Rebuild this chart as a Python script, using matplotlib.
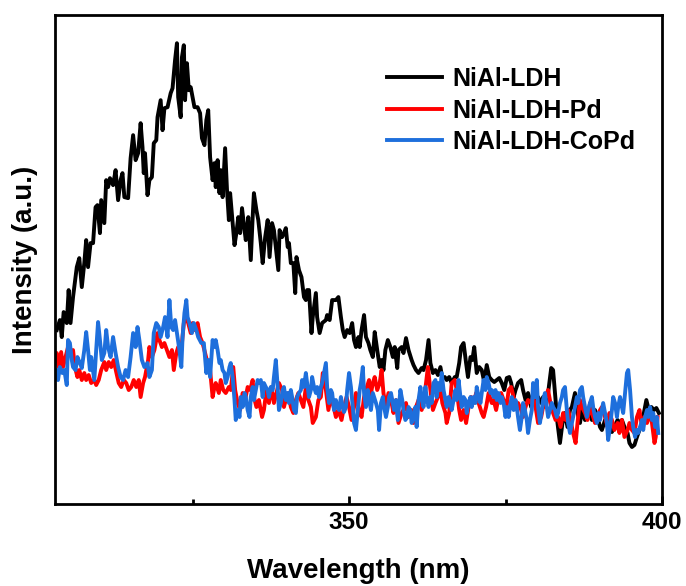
import matplotlib.pyplot as plt
from matplotlib.ticker import MultipleLocator

plt.rcParams['font.family'] = ['Liberation Sans', 'DejaVu Sans']
plt.rcParams['font.weight'] = 'bold'

# NiAl-LDH
wl_ldh = [303.3, 303.8, 304.1, 304.4, 304.9, 305.2, 305.5, 305.9, 306.5, 306.9,
          307.3, 307.7, 308.0, 308.3, 308.7, 309.1, 309.5, 309.8, 310.2, 310.4,
          310.9, 311.2, 311.5, 311.8, 312.3, 312.7, 313.1, 313.5, 313.8, 314.1,
          314.7, 315.1, 315.5, 315.9, 316.3, 316.7, 317.0, 317.2, 317.4, 317.8,
          318.1, 318.5, 318.8, 319.2, 319.4, 319.9, 320.2, 320.5, 321.0, 321.5,
          321.8, 322.2, 322.5, 322.7, 323.1, 323.3, 323.6, 323.8, 324.1, 324.4,
          324.7, 325.0, 325.3, 325.8, 326.2, 326.5, 326.9, 327.2, 327.5, 327.8,
          328.2, 328.5, 328.7, 329.0, 329.3, 329.5, 329.8, 330.2, 330.5, 330.8,
          331.0, 331.4, 331.7, 332.0, 332.3, 332.6, 332.9, 333.3, 333.5, 333.9,
          334.3, 334.6, 334.8, 335.2, 335.5, 335.9, 336.2, 336.6, 337.0, 337.3,
          337.7, 338.0, 338.3, 338.7, 338.9, 339.3, 339.6, 339.9, 340.2, 340.4,
          340.7, 341.1, 341.4, 341.6, 342.0, 342.4, 342.8, 343.1, 343.3, 343.6,
          344.0, 344.2, 344.7, 344.9, 345.3, 345.7, 346.3, 346.5, 346.9, 347.3,
          347.9, 348.3, 348.7, 349.0, 349.3, 349.7, 350.1, 350.5, 350.8, 351.1,
          351.5, 351.7, 352.0, 352.4, 352.7, 353.1, 353.4, 353.8, 354.1, 354.5,
          354.9, 355.2, 355.5, 355.8, 356.2, 356.6, 357.0, 357.3, 357.7, 357.9,
          358.4, 358.7, 359.1, 359.5, 360.0, 360.3, 360.7, 361.1, 361.6, 361.9,
          362.3, 362.7, 363.0, 363.4, 363.8, 364.2, 364.6, 364.9, 365.3, 365.6,
          366.0, 366.4, 366.9, 367.2, 367.6, 367.9, 368.3, 368.7, 369.0, 369.4,
          369.7, 370.0, 370.4, 370.8, 371.2, 371.6, 372.0, 372.4, 372.8, 373.2,
          373.6, 374.0, 374.4, 374.8, 375.2, 375.6, 375.9, 376.3, 376.6, 377.0,
          377.5, 377.8, 378.2, 378.6, 379.1, 379.4, 379.8, 380.2, 380.7, 381.0,
          381.4, 381.8, 382.3, 382.6, 383.0, 383.3, 383.7, 384.1, 384.5, 384.9,
          385.3, 385.6, 386.1, 386.5, 386.9, 387.2, 387.7, 388.1, 388.5, 388.8,
          389.3, 389.7, 390.1, 390.4, 390.9, 391.3, 391.6, 392.0, 392.4, 392.9,
          393.2, 393.6, 394.0, 394.5, 394.8, 395.2, 395.6, 396.0, 396.4, 396.8,
          397.2, 397.5, 397.9, 398.3, 398.7, 399.1, 399.5]
int_ldh = [174, 184, 167, 192, 181, 214, 181, 207, 237, 246,
           217, 241, 264, 237, 261, 261, 297, 299, 271, 304,
           281, 324, 317, 326, 319, 334, 304, 324, 331, 307,
           306, 346, 369, 344, 351, 381, 357, 331, 351, 309,
           324, 327, 361, 364, 387, 404, 374, 396, 397, 411,
           416, 444, 461, 407, 387, 447, 459, 404, 441, 414,
           417, 407, 397, 397, 391, 366, 359, 384, 394, 347,
           324, 341, 317, 344, 311, 334, 307, 356, 314, 284,
           311, 281, 259, 271, 287, 271, 296, 274, 264, 287,
           244, 287, 311, 294, 284, 261, 241, 267, 284, 247,
           281, 274, 257, 234, 274, 267, 271, 276, 257, 261,
           241, 241, 211, 247, 234, 227, 207, 204, 214, 214,
           171, 187, 211, 187, 171, 181, 184, 189, 184, 204,
           204, 207, 187, 174, 167, 174, 171, 181, 164, 157,
           167, 157, 174, 189, 167, 161, 154, 147, 172, 154,
           137, 144, 134, 154, 164, 157, 147, 157, 136, 154,
           157, 151, 166, 154, 144, 139, 134, 131, 136, 134,
           144, 164, 141, 131, 134, 129, 137, 126, 127, 124,
           127, 121, 127, 127, 141, 157, 161, 141, 127, 147,
           144, 157, 131, 137, 134, 122, 139, 127, 124, 122,
           124, 126, 121, 114, 126, 127, 121, 107, 114, 121,
           124, 114, 104, 111, 97, 111, 104, 107, 101, 107,
           97, 111, 136, 134, 104, 81, 61, 81, 91, 77,
           94, 97, 111, 91, 81, 94, 84, 87, 94, 84,
           94, 87, 77, 74, 84, 81, 77, 72, 77, 84,
           81, 84, 77, 71, 61, 57, 59, 67, 74, 81,
           94, 104, 94, 97, 94, 96, 91]

# NiAl-LDH-Pd
wl_pd = [303.0, 303.3, 303.6, 304.0, 304.3, 304.7, 305.1, 305.5, 305.9, 306.2,
         306.6, 306.9, 307.3, 307.7, 308.0, 308.4, 308.8, 309.3, 309.6, 310.0,
         310.4, 310.9, 311.2, 311.6, 312.0, 312.4, 312.8, 313.2, 313.6, 314.0,
         314.4, 314.8, 315.2, 315.6, 316.0, 316.4, 316.7, 317.1, 317.4, 317.9,
         318.1, 318.5, 318.9, 319.4, 319.7, 320.1, 320.5, 320.9, 321.3, 321.7,
         322.0, 322.4, 322.7, 323.2, 323.6, 324.0, 324.3, 324.7, 325.0, 325.4,
         325.8, 326.2, 326.6, 327.0, 327.4, 327.8, 328.2, 328.5, 328.7, 329.2,
         329.5, 329.9, 330.3, 330.8, 331.1, 331.5, 331.8, 332.2, 332.6, 333.0,
         333.4, 333.8, 334.2, 334.6, 334.8, 335.2, 335.6, 336.1, 336.4, 336.8,
         337.2, 337.6, 338.0, 338.4, 338.8, 339.3, 339.6, 340.0, 340.3, 340.7,
         341.1, 341.5, 341.9, 342.3, 342.7, 343.1, 343.5, 343.9, 344.2, 344.7,
         345.1, 345.5, 345.8, 346.3, 346.7, 347.1, 347.4, 347.9, 348.3, 348.8,
         349.2, 349.6, 350.0, 350.4, 350.8, 351.1, 351.6, 352.0, 352.4, 352.7,
         353.2, 353.4, 353.8, 354.1, 354.5, 354.9, 355.2, 355.5, 355.9, 356.3,
         356.8, 357.1, 357.5, 357.9, 358.4, 358.7, 359.1, 359.5, 360.0, 360.3,
         360.7, 361.1, 361.6, 361.9, 362.3, 362.6, 363.0, 363.4, 363.8, 364.2,
         364.6, 364.9, 365.4, 365.6, 366.0, 366.4, 366.9, 367.2, 367.6, 367.9,
         368.3, 368.7, 369.1, 369.5, 369.9, 370.3, 370.7, 371.2, 371.5, 371.9,
         372.3, 372.8, 373.1, 373.5, 373.9, 374.3, 374.7, 375.1, 375.5, 375.9,
         376.3, 376.6, 377.0, 377.5, 377.8, 378.2, 378.6, 379.1, 379.4, 379.8,
         380.2, 380.7, 381.0, 381.4, 381.8, 382.3, 382.6, 383.0, 383.4, 383.8,
         384.2, 384.6, 385.0, 385.4, 385.8, 386.2, 386.5, 386.9, 387.2, 387.7,
         388.1, 388.5, 388.8, 389.3, 389.7, 390.1, 390.4, 390.9, 391.3, 391.6,
         392.0, 392.4, 392.9, 393.2, 393.6, 394.0, 394.5, 394.8, 395.2, 395.6,
         396.0, 396.4, 396.8, 397.2, 397.6, 398.0, 398.4, 398.8, 399.0, 399.3]
int_pd = [147, 151, 137, 152, 137, 147, 157, 151, 154, 137,
          127, 134, 124, 131, 124, 129, 121, 124, 119, 124,
          134, 142, 134, 142, 137, 144, 132, 121, 117, 124,
          121, 114, 117, 124, 117, 124, 107, 121, 127, 144,
          157, 147, 154, 171, 164, 157, 161, 154, 147, 154,
          134, 151, 157, 154, 181, 186, 181, 171, 181, 174,
          181, 167, 161, 151, 141, 134, 107, 117, 121, 111,
          124, 114, 111, 117, 114, 137, 114, 101, 94, 111,
          104, 117, 114, 124, 107, 97, 104, 87, 94, 114,
          101, 117, 101, 111, 121, 114, 97, 107, 111, 97,
          91, 104, 111, 104, 97, 117, 104, 97, 81, 87,
          104, 107, 131, 114, 94, 107, 101, 87, 94, 84,
          97, 107, 97, 84, 97, 111, 94, 87, 107, 114,
          124, 107, 121, 127, 114, 121, 134, 111, 97, 111,
          101, 91, 104, 81, 91, 94, 101, 87, 94, 81,
          97, 104, 94, 101, 121, 137, 114, 94, 101, 107,
          117, 101, 91, 81, 91, 121, 124, 114, 94, 84,
          94, 81, 97, 107, 101, 111, 101, 91, 87, 97,
          111, 101, 104, 94, 107, 111, 104, 94, 114, 117,
          107, 97, 101, 94, 87, 97, 104, 101, 107, 97,
          81, 87, 97, 107, 114, 97, 91, 84, 87, 77,
          91, 84, 94, 84, 71, 61, 81, 104, 97, 91,
          84, 101, 91, 81, 87, 94, 97, 87, 77, 91,
          84, 74, 81, 71, 84, 67, 74, 81, 74, 71,
          87, 94, 77, 87, 81, 91, 81, 61, 67, 87]

# NiAl-LDH-CoPd
wl_copd = [303.0, 303.3, 303.5, 303.8, 304.2, 304.5, 304.9, 305.1, 305.4, 305.7,
           305.9, 306.3, 306.6, 307.0, 307.3, 307.7, 308.0, 308.3, 308.6, 308.8,
           309.3, 309.6, 309.9, 310.2, 310.5, 310.9, 311.2, 311.5, 311.9, 312.3,
           312.7, 313.1, 313.5, 313.9, 314.3, 314.7, 315.1, 315.5, 315.9, 316.2,
           316.5, 316.9, 317.3, 317.8, 318.1, 318.5, 318.8, 319.2, 319.6, 319.9,
           320.3, 320.6, 321.0, 321.3, 321.6, 321.9, 322.2, 322.6, 322.9, 323.2,
           323.4, 323.7, 324.0, 324.2, 324.5, 324.9, 325.2, 325.6, 325.9, 326.4,
           326.8, 327.2, 327.5, 327.8, 328.2, 328.5, 328.7, 329.0, 329.3, 329.5,
           329.8, 330.1, 330.3, 330.6, 330.9, 331.1, 331.4, 331.7, 331.9, 332.2,
           332.5, 332.7, 333.0, 333.3, 333.5, 333.8, 334.1, 334.3, 334.6, 334.8,
           335.1, 335.4, 335.6, 335.9, 336.2, 336.4, 336.7, 337.0, 337.2, 337.5,
           337.8, 338.0, 338.3, 338.6, 338.8, 339.1, 339.4, 339.6, 339.9, 340.2,
           340.4, 340.7, 340.9, 341.2, 341.5, 341.7, 342.0, 342.3, 342.5, 342.8,
           343.1, 343.3, 343.6, 343.9, 344.1, 344.4, 344.7, 344.9, 345.2, 345.5,
           345.7, 346.0, 346.3, 346.5, 346.8, 347.1, 347.3, 347.6, 347.9, 348.1,
           348.4, 348.7, 348.9, 349.2, 349.5, 349.7, 350.0, 350.3, 350.6, 350.8,
           351.1, 351.4, 351.7, 351.9, 352.2, 352.4, 352.7, 353.0, 353.2, 353.5,
           353.8, 354.0, 354.3, 354.6, 354.8, 355.1, 355.4, 355.6, 355.9, 356.2,
           356.4, 356.7, 357.0, 357.2, 357.5, 357.8, 357.9, 358.2, 358.5, 358.7,
           359.0, 359.3, 359.5, 359.8, 360.0, 360.3, 360.6, 360.8, 361.1, 361.4,
           361.6, 361.9, 362.2, 362.4, 362.7, 363.0, 363.2, 363.5, 363.8, 364.0,
           364.3, 364.6, 364.8, 365.1, 365.4, 365.6, 365.9, 366.2, 366.4, 366.7,
           367.0, 367.2, 367.5, 367.8, 368.0, 368.3, 368.6, 368.8, 369.1, 369.4,
           369.6, 369.9, 370.2, 370.4, 370.7, 371.0, 371.2, 371.5, 371.8, 372.0,
           372.3, 372.6, 372.8, 373.1, 373.4, 373.6, 373.9, 374.2, 374.4, 374.7,
           375.0, 375.2, 375.5, 375.8, 376.0, 376.3, 376.6, 376.8, 377.0, 377.3,
           377.6, 377.8, 378.1, 378.4, 378.6, 378.9, 379.2, 379.4, 379.7, 380.0,
           380.2, 380.5, 380.8, 381.0, 381.3, 381.6, 381.8, 382.1, 382.4, 382.6,
           382.9, 383.2, 383.4, 383.7, 384.0, 384.2, 384.5, 384.8, 385.0, 385.3,
           385.6, 385.8, 386.1, 386.4, 386.6, 386.9, 387.2, 387.4, 387.7, 388.0,
           388.2, 388.5, 388.8, 389.0, 389.3, 389.6, 389.8, 390.1, 390.4, 390.6,
           390.9, 391.2, 391.4, 391.7, 392.0, 392.2, 392.5, 392.8, 393.0, 393.3,
           393.6, 393.8, 394.1, 394.4, 394.6, 394.9, 395.2, 395.4, 395.7, 396.0,
           396.2, 396.5, 396.8, 397.0, 397.3, 397.6, 397.8, 398.1, 398.4, 398.6,
           398.9, 399.2, 399.4]
int_copd = [127, 134, 124, 137, 131, 134, 119, 164, 161, 144,
            137, 134, 147, 141, 136, 154, 172, 154, 134, 147,
            124, 154, 182, 164, 144, 151, 174, 157, 147, 167,
            151, 137, 127, 124, 134, 127, 147, 171, 157, 177,
            164, 144, 137, 141, 127, 134, 171, 181, 177, 167,
            177, 187, 167, 204, 177, 174, 184, 167, 154, 137,
            167, 191, 204, 187, 181, 171, 181, 174, 167, 161,
            161, 131, 144, 127, 164, 157, 164, 154, 141, 144,
            134, 131, 121, 127, 137, 141, 127, 104, 84, 94,
            87, 107, 97, 111, 107, 94, 87, 107, 117, 104,
            114, 124, 121, 124, 107, 121, 117, 114, 107, 117,
            114, 127, 144, 117, 94, 101, 114, 117, 104, 111,
            101, 114, 107, 94, 91, 107, 111, 114, 124, 117,
            131, 121, 107, 114, 127, 117, 111, 117, 107, 117,
            121, 131, 141, 117, 101, 114, 111, 94, 104, 97,
            94, 107, 100, 92, 97, 114, 131, 117, 97, 81,
            74, 94, 114, 121, 137, 111, 97, 114, 104, 94,
            111, 107, 101, 94, 74, 101, 107, 97, 87, 97,
            107, 111, 101, 94, 104, 84, 91, 114, 104, 94,
            84, 87, 97, 94, 81, 87, 97, 77, 104, 117,
            107, 97, 117, 107, 97, 107, 101, 121, 124, 107,
            121, 114, 131, 114, 104, 97, 107, 101, 94, 104,
            114, 104, 124, 107, 97, 107, 104, 91, 101, 107,
            97, 107, 101, 117, 107, 101, 111, 124, 114, 127,
            121, 111, 114, 107, 114, 104, 111, 101, 107, 101,
            87, 97, 87, 101, 107, 94, 104, 97, 87, 74,
            87, 101, 94, 84, 71, 84, 94, 121, 107, 124,
            97, 81, 94, 104, 111, 97, 87, 94, 101, 97,
            94, 87, 91, 101, 107, 114, 117, 94, 81, 71,
            81, 87, 97, 107, 101, 114, 117, 107, 97, 87,
            94, 101, 107, 97, 87, 81, 91, 84, 94, 101,
            91, 81, 64, 77, 94, 107, 101, 87, 97, 107,
            97, 91, 111, 131, 134, 114, 87, 77, 67, 74,
            71, 77, 84, 74, 87, 94, 87, 97, 84, 91,
            77, 87, 71]

labels = ['NiAl-LDH', 'NiAl-LDH-Pd', 'NiAl-LDH-CoPd']
colors = ['black', '#ff0000', '#1e6fdc']

fig = plt.figure(figsize=(6.86, 5.86), dpi=100)
ax = fig.add_axes([0.080, 0.140, 0.885, 0.834])

ax.plot(wl_ldh, int_ldh, color=colors[0], lw=2.8, label=labels[0])
ax.plot(wl_pd, int_pd, color=colors[1], lw=2.8, label=labels[1])
ax.plot(wl_copd, int_copd, color=colors[2], lw=2.8, label=labels[2])

ax.set_xlim(303, 400)
ax.set_ylim(0, 489)
ax.xaxis.set_major_locator(MultipleLocator(50))
ax.xaxis.set_minor_locator(MultipleLocator(25))
ax.set_yticks([])
ax.tick_params(axis='x', which='major', direction='in', length=6, width=2,
               labelsize=17.5, pad=5)
ax.tick_params(axis='x', which='minor', direction='in', length=3.5, width=2)
for s in ax.spines.values():
    s.set_linewidth(2)

ax.set_xlabel('Wavelength (nm)', fontsize=20, fontweight='bold', labelpad=17)
ax.set_ylabel('Intensity (a.u.)', fontsize=20, fontweight='bold', labelpad=12)

leg = ax.legend(loc='upper right', frameon=False, fontsize=18,
                handlelength=2.2, handletextpad=0.4, labelspacing=0.3,
                bbox_to_anchor=(0.993, 0.94))

fig.savefig('out.png', dpi=100)
